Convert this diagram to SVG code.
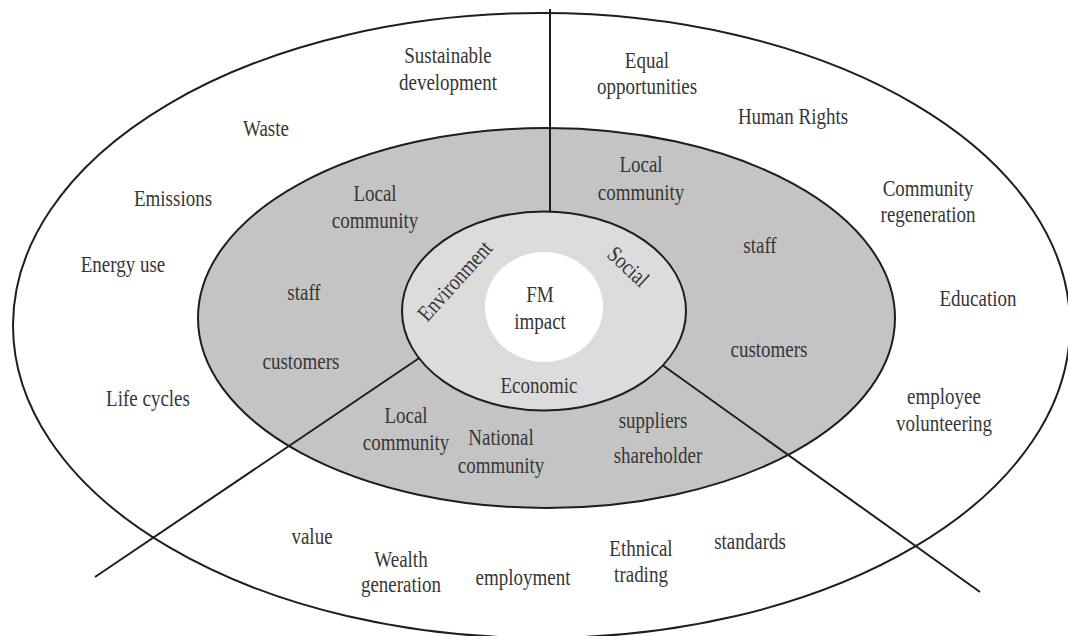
<svg xmlns="http://www.w3.org/2000/svg" width="1068" height="636" viewBox="0 0 1068 636">
  <style>
    .ring { stroke: #1e1e1e; stroke-width: 2; }
    .outer { fill: #ffffff; }
    .stake { fill: #c4c4c4; }
    .pillar { fill: #dcdcdc; }
    .core { fill: #ffffff; stroke: none; }
    .conn { stroke: #1e1e1e; stroke-width: 2; fill: none; }
    text { font-family: "Liberation Serif", "Times New Roman", serif; font-size: 19px; fill: #363636; text-anchor: middle; }
  </style>

  <rect width="1068" height="636" fill="#ffffff"/>

  <!-- outer ring: wider sustainability issues -->
  <g id="outer-ring">
    <ellipse class="ring outer" cx="541.5" cy="325.5" rx="528.5" ry="312.5"/>
  </g>

  <!-- stakeholder ring -->
  <g id="stakeholder-ring">
    <ellipse class="ring stake" cx="546.5" cy="318" rx="348.5" ry="190"/>
  </g>

  <!-- sector dividers -->
  <g id="connectors">
    <line class="conn" x1="550" y1="9" x2="550" y2="240"/>
    <line class="conn" x1="95" y1="577" x2="440" y2="344"/>
    <line class="conn" x1="980" y1="592" x2="640" y2="349"/>
  </g>

  <!-- three pillars ring -->
  <g id="pillar-ring">
    <ellipse class="ring pillar" cx="544" cy="311" rx="142" ry="99.5"/>
    <text transform="translate(455,281) rotate(-48) scale(1,1.2)" y="6">Environment</text>
    <text transform="translate(628,267) rotate(43) scale(1,1.2)" y="6">Social</text>
    <text transform="translate(539,393) scale(1,1.2)">Economic</text>
  </g>

  <!-- centre -->
  <g id="fm-impact">
    <ellipse class="core" cx="544" cy="307" rx="59" ry="55"/>
    <text transform="translate(540,302) scale(1,1.2)"><tspan x="0">FM</tspan><tspan x="0" dy="22.5">impact</tspan></text>
  </g>

  <!-- environment sector, outer ring -->
  <g id="environment-issues">
    <text transform="translate(448,63) scale(1,1.2)"><tspan x="0">Sustainable</tspan><tspan x="0" dy="22.5">development</tspan></text>
    <text transform="translate(266,136) scale(1,1.2)">Waste</text>
    <text transform="translate(173,206) scale(1,1.2)">Emissions</text>
    <text transform="translate(123,272) scale(1,1.2)">Energy use</text>
    <text transform="translate(148,406) scale(1,1.2)">Life cycles</text>
  </g>

  <!-- environment sector, stakeholders -->
  <g id="environment-stakeholders">
    <text transform="translate(375,201) scale(1,1.2)"><tspan x="0">Local</tspan><tspan x="0" dy="22.5">community</tspan></text>
    <text transform="translate(304,300) scale(1,1.2)">staff</text>
    <text transform="translate(301,369) scale(1,1.2)">customers</text>
  </g>

  <!-- social sector, outer ring -->
  <g id="social-issues">
    <text transform="translate(647,68) scale(1,1.2)"><tspan x="0">Equal</tspan><tspan x="0" dy="21.5">opportunities</tspan></text>
    <text transform="translate(793,124) scale(1,1.2)">Human Rights</text>
    <text transform="translate(928,196) scale(1,1.2)"><tspan x="0">Community</tspan><tspan x="0" dy="21.5">regeneration</tspan></text>
    <text transform="translate(978,306) scale(1,1.2)">Education</text>
    <text transform="translate(944,404) scale(1,1.2)"><tspan x="0">employee</tspan><tspan x="0" dy="22.5">volunteering</tspan></text>
  </g>

  <!-- social sector, stakeholders -->
  <g id="social-stakeholders">
    <text transform="translate(641,172) scale(1,1.2)"><tspan x="0">Local</tspan><tspan x="0" dy="23">community</tspan></text>
    <text transform="translate(760,253) scale(1,1.2)">staff</text>
    <text transform="translate(769,357) scale(1,1.2)">customers</text>
  </g>

  <!-- economic sector, stakeholders -->
  <g id="economic-stakeholders">
    <text transform="translate(406,423) scale(1,1.2)"><tspan x="0">Local</tspan><tspan x="0" dy="22.5">community</tspan></text>
    <text transform="translate(501,445) scale(1,1.2)"><tspan x="0">National</tspan><tspan x="0" dy="23">community</tspan></text>
    <text transform="translate(653,428) scale(1,1.2)">suppliers</text>
    <text transform="translate(658,463) scale(1,1.2)">shareholder</text>
  </g>

  <!-- economic sector, outer ring -->
  <g id="economic-issues">
    <text transform="translate(312,544) scale(1,1.2)">value</text>
    <text transform="translate(401,567) scale(1,1.2)"><tspan x="0">Wealth</tspan><tspan x="0" dy="21">generation</tspan></text>
    <text transform="translate(523,585) scale(1,1.2)">employment</text>
    <text transform="translate(641,556) scale(1,1.2)"><tspan x="0">Ethnical</tspan><tspan x="0" dy="21.5">trading</tspan></text>
    <text transform="translate(750,549) scale(1,1.2)">standards</text>
  </g>
</svg>
